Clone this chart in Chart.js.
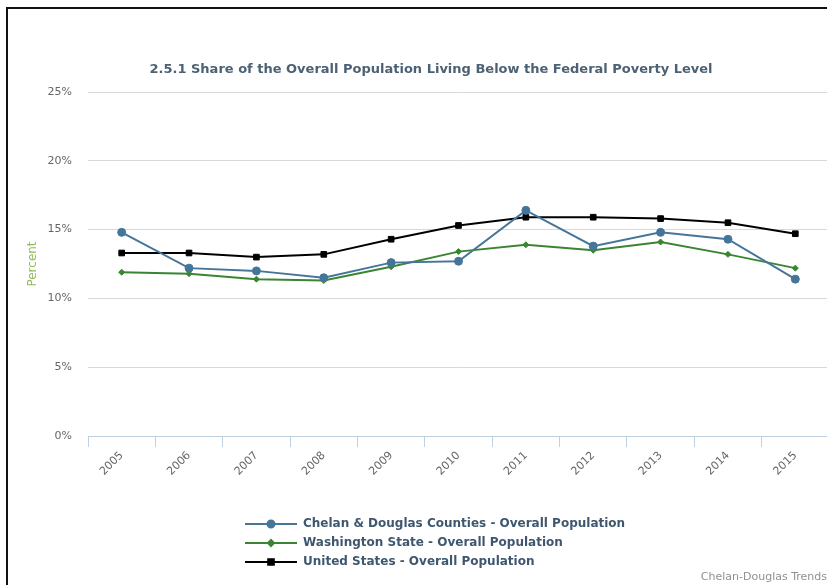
<!DOCTYPE html>
<html>
<head>
<meta charset="utf-8">
<script src="https://cdn.jsdelivr.net/npm/chart.js@4.4.1/dist/chart.umd.min.js"></script>
<style>
  html, body { margin: 0; padding: 0; background: #fff; overflow: hidden; width: 827px; height: 585px; }
  .frame { position: absolute; left: 6px; top: 7px; width: 846px; height: 578px; border-left: 2px solid #111; border-top: 2px solid #111; }
  .frame canvas { display: block; }
</style>
</head>
<body>
<div class="frame"><canvas id="grafico" width="846" height="577"></canvas></div>
<script>
// Datos (porcentaje bajo el nivel federal de pobreza)
const years = ['2005', '2006', '2007', '2008', '2009', '2010', '2011', '2012', '2013', '2014', '2015'];
const chelanDouglas = [14.8, 12.2, 12.0, 11.5, 12.6, 12.7, 16.4, 13.8, 14.8, 14.3, 11.4];
const washington = [11.9, 11.8, 11.4, 11.3, 12.3, 13.4, 13.9, 13.5, 14.1, 13.2, 12.2];
const unitedStates = [13.3, 13.3, 13.0, 13.2, 14.3, 15.3, 15.9, 15.9, 15.8, 15.5, 14.7];
const yTicks = [0, 5, 10, 15, 20, 25];

const FONT = '"DejaVu Sans", sans-serif';
const TITLE = '2.5.1 Share of the Overall Population Living Below the Federal Poverty Level';

// Título, leyenda vertical abajo y crédito, dibujados a mano
const extras = {
  id: 'extras',
  afterDraw(chart) {
    const ctx = chart.ctx;
    ctx.save();
    ctx.textBaseline = 'middle';

    // título centrado en el ancho completo del gráfico
    ctx.fillStyle = '#4d6174';
    ctx.font = 'bold 13px ' + FONT;
    ctx.textAlign = 'center';
    ctx.fillText(TITLE, chart.width / 2, 61);

    // leyenda
    const x0 = 237, x1 = 289, y0 = 515, gap = 19;
    const legendRadius = [3.5, 3, 4];
    chart.data.datasets.forEach((ds, i) => {
      const y = y0 + i * gap;
      ctx.strokeStyle = ds.borderColor;
      ctx.lineWidth = 2;
      ctx.beginPath();
      ctx.moveTo(x0, y);
      ctx.lineTo(x1, y);
      ctx.stroke();
      ctx.fillStyle = ds.borderColor;
      Chart.helpers.drawPoint(ctx, {
        pointStyle: ds.pointStyle, radius: legendRadius[i], rotation: 0, borderWidth: 1
      }, (x0 + x1) / 2, y);
      ctx.fillStyle = '#3e576f';
      ctx.font = 'bold 12px ' + FONT;
      ctx.textAlign = 'left';
      ctx.fillText(ds.label, x1 + 6, y);
    });

    // crédito
    ctx.fillStyle = '#909090';
    ctx.font = '11px ' + FONT;
    ctx.textAlign = 'right';
    ctx.fillText('Chelan-Douglas Trends', 819, 568);
    ctx.restore();
  }
};

const ctx = document.getElementById('grafico').getContext('2d');
new Chart(ctx, {
  type: 'line',
  data: {
    labels: years,
    datasets: [
      { label: 'Chelan & Douglas Counties - Overall Population', data: chelanDouglas,
        borderColor: '#45769a', backgroundColor: '#45769a', pointStyle: 'circle', pointRadius: 4 },
      { label: 'Washington State - Overall Population', data: washington,
        borderColor: '#3a8532', backgroundColor: '#3a8532', pointStyle: 'rectRot', pointRadius: 3 },
      { label: 'United States - Overall Population', data: unitedStates,
        borderColor: '#000000', backgroundColor: '#000000', pointStyle: 'rect', pointRadius: 4 }
    ]
  },
  options: {
    responsive: false,
    animation: false,
    datasets: { line: { borderWidth: 2, tension: 0, pointBorderWidth: 1, pointHoverRadius: 5 } },
    layout: { padding: { left: 0, right: 25, top: 83, bottom: 100 } },
    plugins: {
      legend: { display: false },
      tooltip: { enabled: false },
      title: { display: false }
    },
    scales: {
      x: {
        offset: true,
        afterFit(scale) { scale.height = 50; },
        grid: { offset: true, drawOnChartArea: false, color: '#c0d0e0', tickLength: 11 },
        border: { color: '#c0d0e0' },
        ticks: { color: '#666', font: { family: FONT, size: 11 }, minRotation: 45, maxRotation: 45, padding: 2 }
      },
      y: {
        min: 0,
        max: 25,
        afterFit(scale) { scale.width = 80; },
        afterBuildTicks(scale) { scale.ticks = yTicks.map(v => ({ value: v })); },
        grid: { color: '#d8d8d8', drawTicks: false },
        border: { display: false },
        title: { display: true, text: 'Percent', color: '#8fbd5c', font: { family: FONT, size: 12 }, padding: { top: 18, bottom: 0 } },
        ticks: { color: '#666', font: { family: FONT, size: 11 }, padding: 16, callback: v => v + '%' }
      }
    }
  },
  plugins: [extras]
});
</script>
</body>
</html>
